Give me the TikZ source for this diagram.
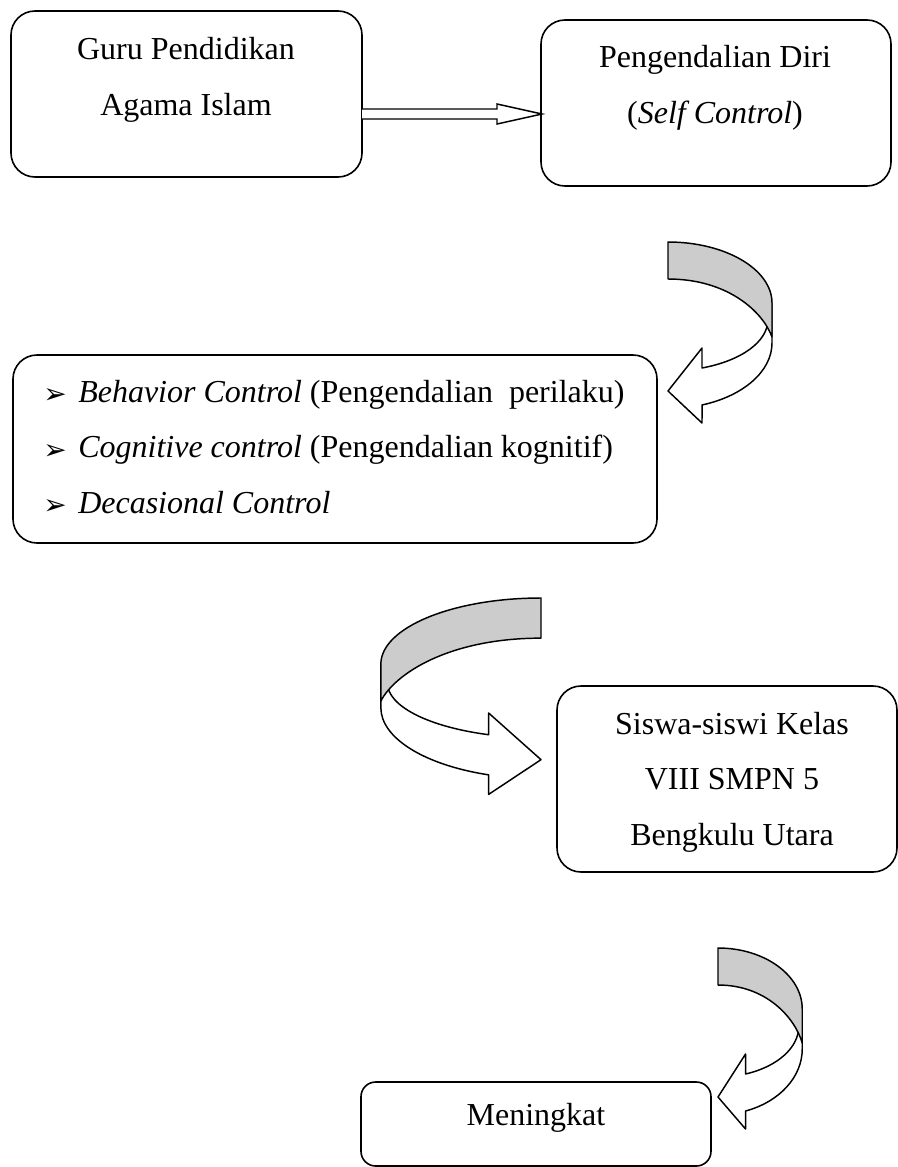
\documentclass[tikz,border=0pt]{standalone}
\usepackage{fontspec}
\setmainfont{Liberation Serif}
\newfontfamily\dejavu{DejaVu Sans}
\usetikzlibrary{calc,positioning}

\tikzset{
    kotak/.style 2 args={draw, line width=1.2pt, rounded corners=18pt, inner sep=0pt, outer sep=0pt,
        minimum width=#1*0.75pt, minimum height=#2*0.75pt},
    teks/.style={inner sep=0pt, anchor=base, align=center, font=\fontsize{24}{41.5}\selectfont},
    lengkung/.pic={
        \draw[line width=1.1pt, fill=white, line join=round] (104,61) -- (104,101)
            arc[start angle=0, end angle=70.9, x radius=104, y radius=65.6]
            -- (34,181) -- (0,149) -- (34,106) -- (34,126)
            arc[start angle=70, end angle=0, x radius=100, y radius=51] -- cycle;
        \draw[line width=1.1pt, fill=black!20, line join=round] (0,0)
            arc[start angle=-90, end angle=0, x radius=104, y radius=61]
            -- (104,95) .. controls (95,70) and (60,37) .. (0,37) -- cycle;
    }
}
\newcommand{\butir}{\makebox[26.25pt][l]{\dejavu\fontsize{21}{21}\selectfont\raisebox{-1pt}{➢}}}

\begin{document}
\begin{tikzpicture}[x=0.75pt, y=-0.75pt]
    \useasboundingbox (0,0) rectangle (898,1167);

    \node[kotak={351}{166}] (guru) at (186.5,94) {};
    \node[kotak={350}{166}] (diri) at (716,103) {};
    \node[kotak={644}{188}] (aspek) at (335,449) {};
    \node[kotak={340}{186}] (siswa) at (727,779) {};
    \node[kotak={350}{84}, rounded corners=11pt] (hasil) at (536,1124) {};

    \node[teks] (tguru) at (186,115) {Guru Pendidikan\\Agama Islam};
    \node[teks] (tdiri) at (715,123) {Pengendalian Diri\\(\textit{Self Control})};
    \node[teks, anchor=base west, align=left] (taspek) at (43,513)
        {\butir\textit{Behavior Control} (Pengendalian\ \ perilaku)\\
         \butir\textit{Cognitive control} (Pengendalian kognitif)\\
         \butir\textit{Decasional Control}};
    \node[teks] (tsiswa) at (732,845) {Siswa-siswi Kelas\\VIII SMPN 5\\Bengkulu Utara};
    \node[teks] (thasil) at (536,1125) {Meningkat};

    \draw[line width=1.1pt, fill=white] ($(guru.east)+(0,15)$) -- ($(diri.west)+(-44,6)$) -- ++(0,-5)
        -- ($(diri.west)+(1,11)$) -- ++(-45,10) -- ++(0,-5) -- ($(guru.east)+(0,25)$);

    \pic at (668,242) {lengkung};
    \pic[xscale=-1.54, yscale=1.085] at (541,598) {lengkung};
    \pic[xscale=0.81] at (718,948) {lengkung};
\end{tikzpicture}
\end{document}
